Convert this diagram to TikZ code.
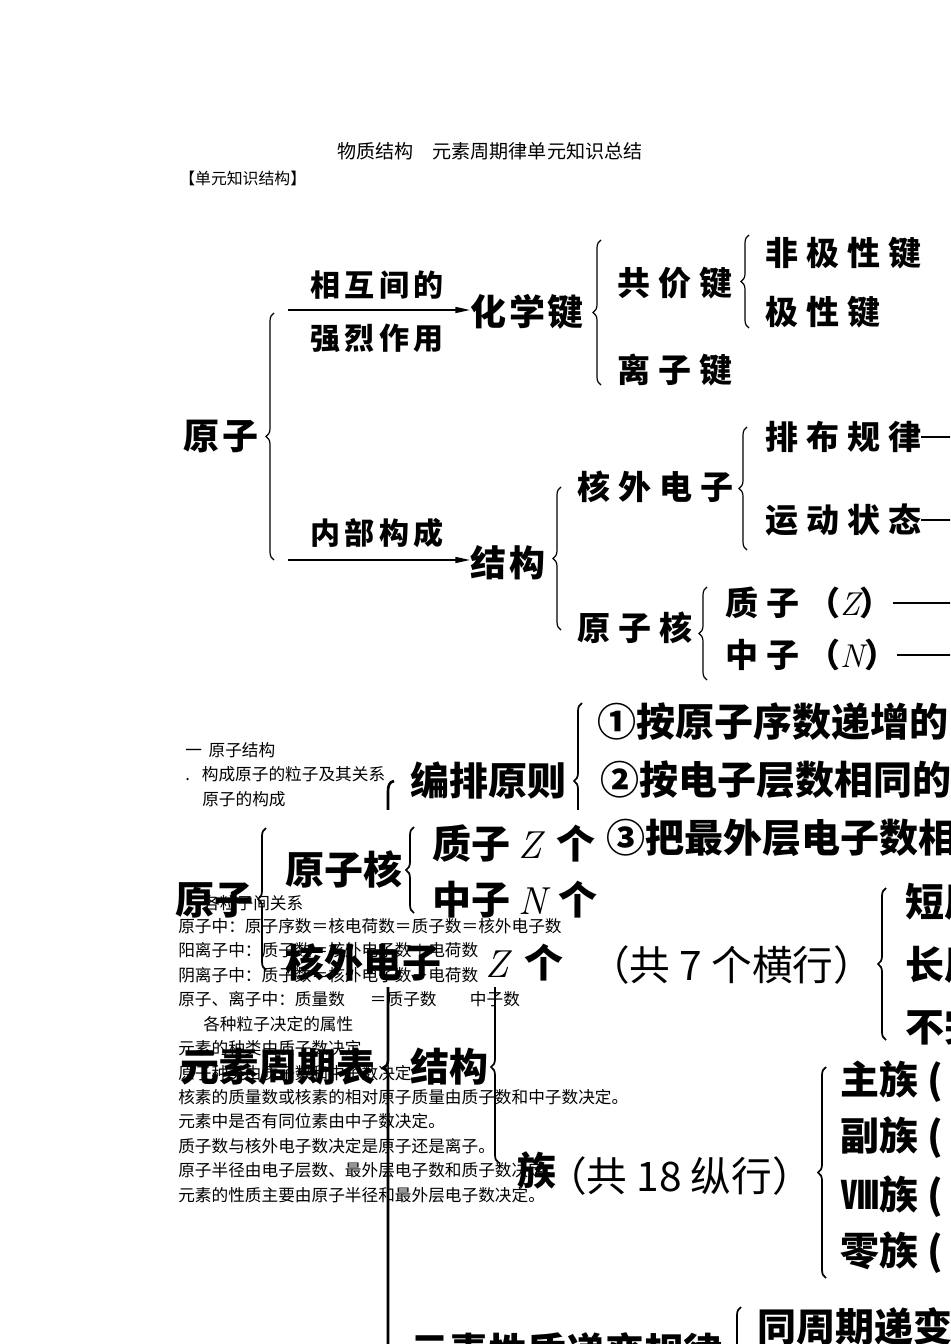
\documentclass[tikz,border=0pt]{standalone}
\usepackage{fontspec}
\newfontfamily\cjk{Noto Sans CJK SC}
\usetikzlibrary{arrows.meta,decorations.pathreplacing}
\newcommand\vZ{{\normalfont\itshape Z}}
\newcommand\vN{{\normalfont\itshape N}}
\newcommand\dashline{\rule[0.36em]{3em}{0.05em}}
\begin{document}
\begin{tikzpicture}[x=0.75pt,y=-0.75pt,
    every node/.style={inner sep=0pt, anchor=west},
    sm/.style={font=\cjk\fontsize{12.5}{14}\selectfont},
    d1a/.style={font=\cjk\bfseries\fontsize{27}{28}\selectfont\addfontfeature{LetterSpace=8}},
    d1b/.style={font=\cjk\bfseries\fontsize{24.75}{26}\selectfont\addfontfeature{LetterSpace=24}},
    d1c/.style={font=\cjk\bfseries\fontsize{22.5}{24}\selectfont\addfontfeature{LetterSpace=15}},
    d2/.style={font=\cjk\bfseries\fontsize{29.25}{30}\selectfont},
    d2r/.style={font=\cjk\fontsize{30.5}{31}\selectfont},
    br/.style={decorate, decoration={brace, amplitude=6pt}, line width=0.9pt},
    br2/.style={decorate, decoration={brace, amplitude=6pt}, line width=1.3pt},
    arr/.style={-{Triangle[length=11pt,width=4.5pt]}, line width=1.1pt}]
\useasboundingbox (0,0) rectangle (950,1344);
\clip (0,0) rectangle (950,1344);
% heading
\node[font=\cjk\fontsize{14.3}{16}\selectfont] (title) at (337,151) {物质结构　元素周期律单元知识总结};
\node[font=\cjk\fontsize{11.9}{13}\selectfont] (head) at (179,178) {【单元知识结构】};
% first chart
\node[d1a] (atom) at (183,437) {原子};
\node[d1a] (bond) at (470,312) {化学键};
\node[d1a] (struct) at (470,563) {结构};
\node[d1c] (lba) at (310,285) {相互间的};
\node[d1c] (lbb) at (310,338) {强烈作用};
\node[d1c] (lbc) at (310,533) {内部构成};
\coordinate (a1) at (288,310);
\coordinate (a2) at (288,560);
\draw[arr] (a1) -- (a1 -| bond.west);
\draw[arr] (a2) -- (a2 -| struct.west);
\draw[br] (274,560) -- (274,313);
\node[d1b] (cov) at (617,283) {共价键};
\node[d1b] (ion) at (617,370) {离子键};
\draw[br] (601,385) -- (601,240);
\node[d1b] (npol) at (765,253) {非极性键};
\node[d1b] (pol) at (765,312) {极性键};
\draw[br] (749,328) -- (749,235);
\node[d1b] (elec) at (577,487) {核外电子};
\node[d1b] (nuc) at (577,628) {原子核};
\draw[br] (561,630) -- (561,487);
\node[d1b] (rule) at (765,437) {排布规律\dashline};
\node[d1b] (move) at (765,520) {运动状态\dashline};
\draw[br] (747,550) -- (747,427);
\node[d1b] (prot) at (725,603) {质子（\vZ）\dashline};
\node[d1b] (neut) at (725,655) {中子（\vN）\dashline};
\draw[br] (707,680) -- (707,587);
% second chart
\node[d2] (table) at (180,1067) {元素周期表};
\draw[line width=2pt] (394,781) .. controls (389,782) and (388,786) .. (388,792) -- (388,1060)
    .. controls (388,1065) and (386,1067) .. (383,1068) .. controls (386,1069) and (388,1071) .. (388,1076) -- (388,1350);
\node[d2] (plan) at (410,781) {编排原则};
\node[d2] (pa) at (597,722) {①按原子序数递增的};
\node[d2] (pb) at (600,780) {②按电子层数相同的};
\node[d2] (pc) at (606,838) {③把最外层电子数相};
\draw[br2] (582,859) -- (582,703);
\node[d2r] (rows) at (589,965) {（共 7 个横行）};
\draw[br2] (886,1040) -- (886,888);
\node[d2] (short) at (905,902) {短周期};
\node[d2] (long) at (905,965) {长周期};
\node[d2] (part) at (905,1027) {不完全周期};
\node[d2] (struct2) at (410,1067) {结构};
\draw[br2] (499,1163) -- (499,971);
\node[d2] (fam) at (517,1170) {族};
\node[d2r] (cols) at (546,1176) {（共 18 纵行）};
\draw[br2] (826,1278) -- (826,1067);
\node[d2] (fmain) at (840,1082) {主族 (};
\node[d2] (fsub) at (840,1138) {副族 (};
\node[d2] (fviii) at (840,1197) {Ⅷ族 (};
\node[d2] (fzero) at (840,1253) {零族 (};
\node[d2] (law) at (410,1352) {元素性质递变规律};
\draw[br2] (741,1400) -- (741,1307);
\node[d2] (same) at (757,1327) {同周期递变};
% pasted chart
\fill[white] (170,810) rectangle (600,987);
\node[d2] (atom2) at (175,900) {原子};
\draw[br2] (266,970) -- (266,828);
\node[d2] (nuc2) at (285,869) {原子核};
\draw[br2] (414,913) -- (414,827);
\node[d2] (pz) at (432,843) {质子\hspace{6pt}\vZ\hspace{11pt}个};
\node[d2] (nn) at (432,900) {中子\hspace{6pt}\vN\hspace{9pt}个};
\node[d2] (el2) at (285,962) {核外电子};
\node[d2] (ez) at (485,963) {\vZ\hspace{12pt}个};
% notes
\node[sm] (na) at (185,750) {一\hspace{5pt}原子结构};
\node[sm] (nb) at (185,774) {.\hspace{9pt}构成原子的粒子及其关系};
\node[sm] (nc) at (202,799) {原子的构成};
\node[sm] (nd) at (203,903) {各粒子间关系};
\foreach \x/\t [count=\i from 0] in {178/原子中：原子序数＝核电荷数＝质子数＝核外电子数,
    178/阳离子中：质子数＝核外电子数＋电荷数,
    178/阴离子中：质子数＝核外电子数－电荷数,
    178/原子、离子中：质量数\hspace{1.5em}＝质子数\hspace{2em}中子数,
    203/各种粒子决定的属性,
    178/元素的种类由质子数决定,
    178/原子种类由质子数和中子数决定,
    178/核素的质量数或核素的相对原子质量由质子数和中子数决定。,
    178/元素中是否有同位素由中子数决定。,
    178/质子数与核外电子数决定是原子还是离子。,
    178/原子半径由电子层数、最外层电子数和质子数决定。,
    178/元素的性质主要由原子半径和最外层电子数决定。}
  \node[sm] (s\i) at (\x,926+24.45*\i) {\t};
\end{tikzpicture}
\end{document}
